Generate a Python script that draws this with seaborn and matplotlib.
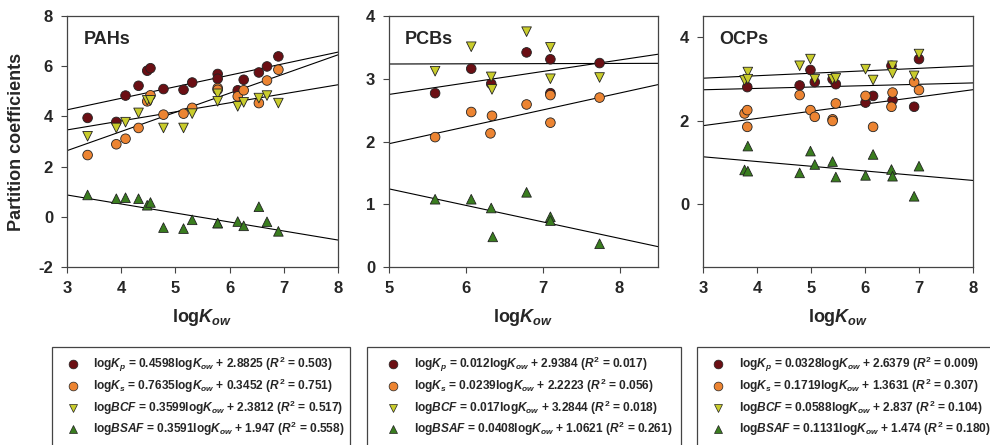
import numpy as np
import pandas as pd
import matplotlib
matplotlib.use("Agg")
import matplotlib.pyplot as plt
from matplotlib.lines import Line2D
from matplotlib.patches import Rectangle
import seaborn as sns

sns.set_theme(style="white")
plt.rcParams['font.family'] = ['Liberation Sans', 'DejaVu Sans']
plt.rcParams['mathtext.fontset'] = 'custom'
plt.rcParams['mathtext.rm'] = 'Liberation Sans:bold'
plt.rcParams['mathtext.bf'] = 'Liberation Sans:bold'
plt.rcParams['mathtext.it'] = 'Liberation Sans:italic:bold'

series = ["Kp", "Ks", "BCF", "BSAF"]
colors = {"Kp": "#6b0f14", "Ks": "#ec8432", "BCF": "#c9cc2c", "BSAF": "#3a7d1f"}
markers = {"Kp": "o", "Ks": "o", "BCF": "v", "BSAF": "^"}

# ---------------- PAHs ----------------
pah_kp_x = [3.38, 3.91, 4.08, 4.32, 4.48, 4.54, 4.78, 5.15, 5.31, 5.78, 5.78, 6.15, 6.26, 6.54, 6.69, 6.90]
pah_kp_y = [3.94, 3.78, 4.83, 5.22, 5.82, 5.92, 5.09, 5.06, 5.35, 5.69, 5.50, 5.04, 5.46, 5.75, 5.99, 6.39]
pah_ks_x = [3.38, 3.91, 4.08, 4.32, 4.48, 4.54, 4.78, 5.15, 5.31, 5.78, 5.78, 6.15, 6.26, 6.54, 6.69, 6.90]
pah_ks_y = [2.46, 2.89, 3.11, 3.54, 4.60, 4.84, 4.07, 4.11, 4.34, 5.13, 5.06, 4.80, 5.04, 4.53, 5.43, 5.86]
pah_bcf_x = [3.38, 3.91, 4.08, 4.32, 4.48, 4.54, 4.78, 5.15, 5.31, 5.78, 5.78, 6.15, 6.26, 6.54, 6.69, 6.90]
pah_bcf_y = [3.21, 3.54, 3.77, 4.14, 4.64, 4.64, 3.54, 3.54, 4.11, 4.90, 4.60, 4.40, 4.56, 4.73, 4.83, 4.53]
pah_bsaf_x = [3.38, 3.91, 4.08, 4.32, 4.48, 4.54, 4.78, 5.15, 5.31, 5.78, 5.78, 6.15, 6.26, 6.54, 6.69, 6.90]
pah_bsaf_y = [0.87, 0.72, 0.76, 0.72, 0.46, 0.57, -0.43, -0.47, -0.12, -0.25, -0.25, -0.19, -0.36, 0.40, -0.20, -0.58]
pah_slopes = [0.4598, 0.7635, 0.3599, -0.3591]
pah_intercepts = [2.8825, 0.3452, 2.3812, 1.947]

# ---------------- PCBs ----------------
pcb_kp_x = [5.60, 6.07, 6.33, 6.79, 7.10, 7.10, 7.74]
pcb_kp_y = [2.77, 3.16, 2.92, 3.42, 3.31, 2.77, 3.25]
pcb_ks_x = [5.60, 6.07, 6.34, 6.32, 6.79, 7.10, 7.10, 7.74]
pcb_ks_y = [2.07, 2.47, 2.41, 2.13, 2.59, 2.74, 2.30, 2.70]
pcb_bcf_x = [5.60, 6.07, 6.33, 6.34, 6.79, 7.10, 7.10, 7.74]
pcb_bcf_y = [3.12, 3.51, 3.03, 2.83, 3.75, 3.50, 3.00, 3.02]
pcb_bsaf_x = [5.60, 6.07, 6.33, 6.35, 6.79, 7.10, 7.10, 7.74]
pcb_bsaf_y = [1.08, 1.08, 0.94, 0.48, 1.19, 0.80, 0.74, 0.37]
pcb_slopes = [0.183, 0.269, 0.003, -0.263]
pcb_intercepts = [1.835, 0.62, 3.22, 2.56]

# ---------------- OCPs ----------------
ocp_kp_x = [3.82, 4.79, 4.99, 5.07, 5.40, 5.46, 6.01, 6.15, 6.49, 6.51, 6.91, 7.00]
ocp_kp_y = [2.80, 2.84, 3.21, 2.92, 2.99, 2.87, 2.43, 2.59, 3.31, 2.49, 2.33, 3.47]
ocp_ks_x = [3.77, 3.82, 3.82, 4.79, 4.99, 5.07, 5.40, 5.40, 5.46, 6.01, 6.15, 6.51, 6.49, 6.91, 7.00]
ocp_ks_y = [2.17, 2.25, 1.85, 2.61, 2.25, 2.09, 2.03, 1.99, 2.41, 2.59, 1.85, 2.67, 2.33, 2.92, 2.73]
ocp_bcf_x = [3.77, 3.83, 3.83, 4.79, 4.99, 5.07, 5.40, 5.46, 6.01, 6.15, 6.51, 6.51, 6.91, 7.00]
ocp_bcf_y = [2.96, 3.16, 2.99, 3.31, 3.47, 2.99, 2.99, 3.01, 3.23, 2.97, 3.31, 3.13, 3.07, 3.59]
ocp_bsaf_x = [3.77, 3.83, 3.83, 4.79, 4.99, 5.07, 5.40, 5.46, 6.01, 6.15, 6.49, 6.51, 6.91, 7.00]
ocp_bsaf_y = [0.82, 1.39, 0.79, 0.75, 1.27, 0.95, 1.02, 0.65, 0.69, 1.19, 0.83, 0.67, 0.19, 0.91]
ocp_slopes = [0.0328, 0.1719, 0.0588, -0.1131]
ocp_intercepts = [2.6379, 1.3631, 2.837, 1.474]

panel_names = ["PAHs", "PCBs", "OCPs"]
xlims = [(3, 8), (5, 8.5), (3, 8)]
ylims = [(-2, 8), (0, 4), (-1.5, 4.5)]
xticks = [[3, 4, 5, 6, 7, 8], [5, 6, 7, 8], [3, 4, 5, 6, 7, 8]]
yticks = [[-2, 0, 2, 4, 6, 8], [0, 1, 2, 3, 4], [0, 2, 4]]

legend_texts = [
    [r"log$K_p$ = 0.4598log$K_{ow}$ + 2.8825 ($R^2$ = 0.503)",
     r"log$K_s$ = 0.7635log$K_{ow}$ + 0.3452 ($R^2$ = 0.751)",
     r"log$BCF$ = 0.3599log$K_{ow}$ + 2.3812 ($R^2$ = 0.517)",
     r"log$BSAF$ = 0.3591log$K_{ow}$ + 1.947 ($R^2$ = 0.558)"],
    [r"log$K_p$ = 0.012log$K_{ow}$ + 2.9384 ($R^2$ = 0.017)",
     r"log$K_s$ = 0.0239log$K_{ow}$ + 2.2223 ($R^2$ = 0.056)",
     r"log$BCF$ = 0.017log$K_{ow}$ + 3.2844 ($R^2$ = 0.018)",
     r"log$BSAF$ = 0.0408log$K_{ow}$ + 1.0621 ($R^2$ = 0.261)"],
    [r"log$K_p$ = 0.0328log$K_{ow}$ + 2.6379 ($R^2$ = 0.009)",
     r"log$K_s$ = 0.1719log$K_{ow}$ + 1.3631 ($R^2$ = 0.307)",
     r"log$BCF$ = 0.0588log$K_{ow}$ + 2.837 ($R^2$ = 0.104)",
     r"log$BSAF$ = 0.1131log$K_{ow}$ + 1.474 ($R^2$ = 0.180)"],
]


def make_df(xs, ys):
    frames = []
    for name, x, y in zip(series, xs, ys):
        frames.append(pd.DataFrame({"x": x, "y": y, "series": name}))
    return pd.concat(frames, ignore_index=True)


dfs = [
    make_df([pah_kp_x, pah_ks_x, pah_bcf_x, pah_bsaf_x], [pah_kp_y, pah_ks_y, pah_bcf_y, pah_bsaf_y]),
    make_df([pcb_kp_x, pcb_ks_x, pcb_bcf_x, pcb_bsaf_x], [pcb_kp_y, pcb_ks_y, pcb_bcf_y, pcb_bsaf_y]),
    make_df([ocp_kp_x, ocp_ks_x, ocp_bcf_x, ocp_bsaf_x], [ocp_kp_y, ocp_ks_y, ocp_bcf_y, ocp_bsaf_y]),
]
fits = [(pah_slopes, pah_intercepts), (pcb_slopes, pcb_intercepts), (ocp_slopes, ocp_intercepts)]

W, H = 990, 445
fig = plt.figure(figsize=(9.9, 4.45), dpi=100)
axes_px = [(67, 338), (389, 658), (703, 973)]
top_px, bot_px = 16, 267
spine_col = "#444444"

for i in range(3):
    l, r = axes_px[i]
    ax = fig.add_axes([l / W, 1 - bot_px / H, (r - l) / W, (bot_px - top_px) / H])
    df = dfs[i]
    slopes, ints = fits[i]
    x0, x1 = xlims[i]
    for s, b in zip(slopes, ints):
        ldf = pd.DataFrame({"x": [x0, x1], "y": [s * x0 + b, s * x1 + b]})
        sns.lineplot(data=ldf, x="x", y="y", ax=ax, color="black", lw=0.8, zorder=2)
    sns.scatterplot(data=df, x="x", y="y", hue="series", style="series",
                    palette=colors, markers=markers, s=48, edgecolor="#222222",
                    linewidth=0.6, ax=ax, legend=False, zorder=3)
    ax.set_xlim(*xlims[i])
    ax.set_ylim(*ylims[i])
    ax.set_xticks(xticks[i])
    ax.set_yticks(yticks[i])
    ax.set_xticklabels([str(v) for v in xticks[i]], fontweight="bold", fontsize=12)
    ax.set_yticklabels([str(v) for v in yticks[i]], fontweight="bold", fontsize=12)
    ax.tick_params(direction="out", length=4, width=0.8, color=spine_col, pad=6,
                   bottom=True, left=True)
    for sp in ax.spines.values():
        sp.set_color(spine_col)
        sp.set_linewidth(0.9)
    ax.set_ylabel("")
    ax.set_xlabel(r"log$K_{ow}$", fontsize=13, fontweight="bold", labelpad=8)
    ax.text(0.06, 0.905, panel_names[i], transform=ax.transAxes, fontsize=13,
            fontweight="bold", va="center", ha="left")

fig.text(17 / W, 1 - 142 / H, "Partition coefficients", rotation=90, fontsize=13,
         fontweight="bold", ha="center", va="center")

# legend boxes
boxes = [(52, 350), (367, 681), (697, 1000)]
marker_x = [73, 393, 718]
text_x = [93, 414, 739]
rows = [364, 386, 408, 429]
for i in range(3):
    bl, br = boxes[i]
    rect = Rectangle((bl / W, -0.05), (br - bl) / W, (1 - 347 / H) + 0.05,
                     transform=fig.transFigure, fill=False, edgecolor=spine_col,
                     linewidth=0.9, clip_on=False)
    fig.patches.append(rect)
    for j, name in enumerate(series):
        yy = 1 - rows[j] / H
        fig.add_artist(Line2D([marker_x[i] / W], [yy], transform=fig.transFigure,
                              marker=markers[name], markersize=6.3, color=colors[name],
                              markeredgecolor="#222222", markeredgewidth=0.5, linestyle="none"))
        fig.text(text_x[i] / W, yy, legend_texts[i][j], fontsize=8.6, fontweight="bold",
                 ha="left", va="center")

fig.savefig("out.png", dpi=100)
